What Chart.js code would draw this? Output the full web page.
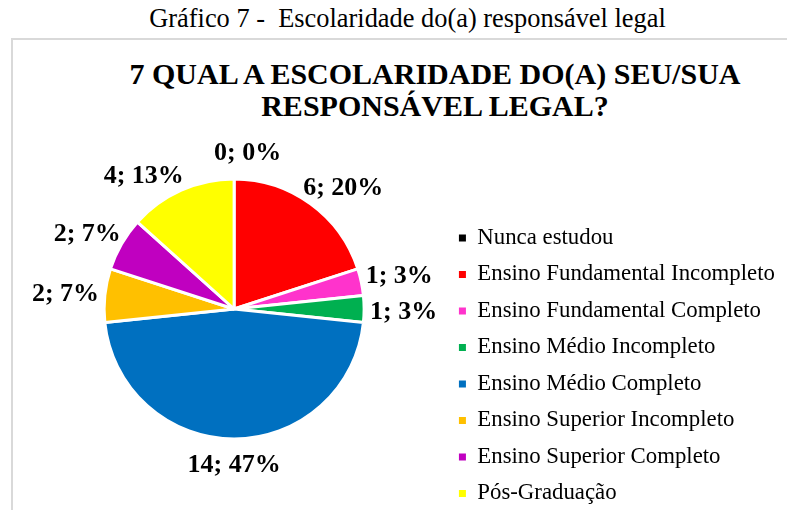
<!DOCTYPE html>
<html lang="pt">
<head>
<meta charset="utf-8">
<title>Gráfico 7 - Escolaridade do(a) responsável legal</title>
<script src="https://cdn.jsdelivr.net/npm/chart.js@4.4.1/dist/chart.umd.min.js"></script>
<style>
  html, body { margin:0; padding:0; background:#fff; overflow:hidden; }
  body { width:787px; height:510px; position:relative; font-family:"Liberation Serif","Times New Roman",serif; color:#000; }
  .caption { position:absolute; left:0; top:3px; width:815px; text-align:center; font-size:26.4px; line-height:30px; }
  .frame { position:absolute; left:11px; top:38px; width:820px; height:520px; border:2px solid #d9d9d9; box-sizing:border-box; }
  .titulo { position:absolute; left:0; top:58px; width:870px; text-align:center; font-weight:bold; font-size:30px; line-height:32px; }
  .wrap { position:absolute; left:0; top:0; width:787px; height:530px; }
</style>
</head>
<body>
<div class="caption">Gráfico 7 -&nbsp; Escolaridade do(a) responsável legal</div>
<div class="frame"></div>
<div class="titulo">7 QUAL A ESCOLARIDADE DO(A) SEU/SUA<br>RESPONSÁVEL LEGAL?</div>
<div class="wrap"><canvas id="grafico"></canvas></div>
<script>
  // ── Dados ──
  const categorias = [
    'Nunca estudou',
    'Ensino Fundamental Incompleto',
    'Ensino Fundamental Completo',
    'Ensino Médio Incompleto',
    'Ensino Médio Completo',
    'Ensino Superior Incompleto',
    'Ensino Superior Completo',
    'Pós-Graduação'
  ];
  const respostas = [0, 6, 1, 1, 14, 2, 2, 4];
  const cores = ['#000000', '#FF0000', '#FF33CC', '#00B050', '#0070C0', '#FFC000', '#C000C0', '#FFFF00'];

  const FONTE = '"Liberation Serif","Times New Roman",serif';

  /* ── Rótulos "valor; %" fora das fatias, afastados quando colidem ── */
  const rotulosPlugin = {
    id: 'rotulosFatias',
    afterDatasetsDraw: function(chart){
      const ctx = chart.ctx;
      const meta = chart.getDatasetMeta(0);
      const vals = chart.data.datasets[0].data;
      const total = vals.reduce(function(a,b){ return a+b; }, 0);
      const gx = 6, gy = 13, h = 26, mx = 30, my = 9, step = 0.004;
      ctx.save();
      ctx.font = 'bold 26px ' + FONTE;
      ctx.fillStyle = '#000';
      ctx.textAlign = 'center';
      ctx.textBaseline = 'middle';

      const itens = meta.data.map(function(arc, i){
        const p = arc.getProps(['x','y','startAngle','endAngle','outerRadius'], true);
        const txt = vals[i] + '; ' + Math.round(vals[i] / total * 100) + '%';
        return { p: p, a: (p.startAngle + p.endAngle) / 2, txt: txt, w: ctx.measureText(txt).width };
      });
      function caixa(it){
        const s = Math.sin(it.a);
        const cx = it.p.x + Math.cos(it.a) * (it.p.outerRadius + gx + it.w / 2);
        const cy = it.p.y + s * (it.p.outerRadius + h / 2) + s * Math.abs(s) * gy;
        return { cx: cx, cy: cy, l: cx - it.w/2, r: cx + it.w/2, t: cy - h/2, b: cy + h/2 };
      }
      function norm(d){
        while(d > Math.PI) d -= 2*Math.PI;
        while(d <= -Math.PI) d += 2*Math.PI;
        return d;
      }
      for(let k = 0; k < 500; k++){
        let mexeu = false;
        for(let i = 0; i < itens.length; i++){
          for(let j = i + 1; j < itens.length; j++){
            const bi = caixa(itens[i]), bj = caixa(itens[j]);
            if(bi.l < bj.r + mx && bj.l < bi.r + mx && bi.t < bj.b + my && bj.t < bi.b + my){
              const s = norm(itens[j].a - itens[i].a) >= 0 ? 1 : -1;
              itens[j].a += s * step;
              itens[i].a -= s * step;
              mexeu = true;
            }
          }
        }
        if(!mexeu) break;
      }
      itens.forEach(function(it){
        const b = caixa(it);
        ctx.fillText(it.txt, b.cx, b.cy);
      });
      ctx.restore();
    }
  };

  new Chart(document.getElementById('grafico'), {
    type: 'pie',
    data: {
      labels: categorias,
      datasets: [{
        data: respostas,
        backgroundColor: cores,
        borderColor: '#ffffff',
        borderWidth: 3,
        radius: 130
      }]
    },
    options: {
      responsive: true,
      maintainAspectRatio: false,
      animation: false,
      layout: { padding: { left: 23, right: 2.1, top: 99.4, bottom: 11.4 } },
      plugins: {
        title: { display: false },
        tooltip: { enabled: false },
        legend: {
          position: 'right',
          align: 'end',
          labels: {
            boxWidth: 7,
            boxHeight: 7,
            padding: 13.7,
            color: '#000',
            font: { family: FONTE, size: 22.8 },
            generateLabels: function(chart){
              const ds = chart.data.datasets[0];
              return chart.data.labels.map(function(l, i){
                return { text: l, fillStyle: ds.backgroundColor[i], strokeStyle: ds.backgroundColor[i], lineWidth: 0, hidden: false, index: i, fontColor: '#000' };
              });
            }
          }
        }
      }
    },
    plugins: [rotulosPlugin]
  });
</script>
</body>
</html>
